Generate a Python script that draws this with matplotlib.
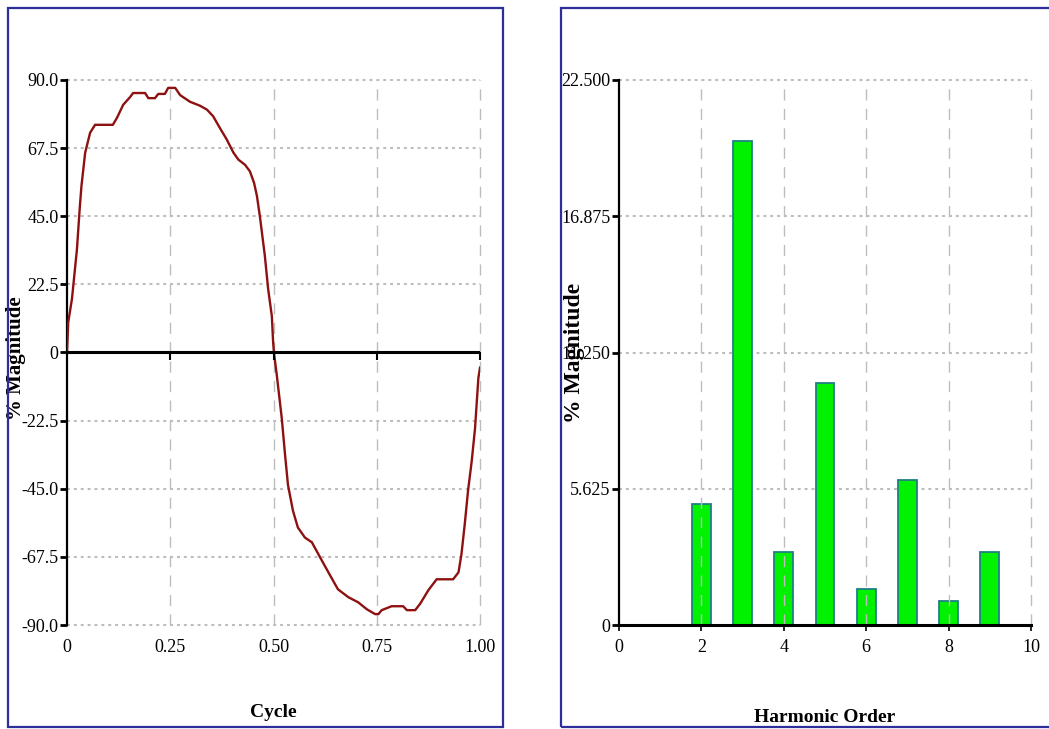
"""
Waveform and harmonic spectrum, two panels
"""
import matplotlib.pyplot as plt
from matplotlib.patches import Rectangle
from matplotlib.transforms import Bbox, TransformedBbox

# waveform over one cycle
cycle = [0, 0.003, 0.012, 0.024, 0.031, 0.035, 0.044, 0.056, 0.068, 0.111,
         0.121, 0.136, 0.153, 0.16, 0.189, 0.197, 0.213, 0.221, 0.237, 0.245,
         0.262, 0.274, 0.298, 0.322, 0.339, 0.354, 0.370, 0.387, 0.403, 0.415,
         0.431, 0.443, 0.453, 0.46, 0.467, 0.479, 0.487, 0.496, 0.499, 0.501,
         0.508, 0.52, 0.528, 0.535, 0.547, 0.559, 0.576, 0.593, 0.613, 0.637,
         0.656, 0.681, 0.705, 0.726, 0.746, 0.754, 0.762, 0.786, 0.814, 0.823,
         0.843, 0.855, 0.875, 0.895, 0.935, 0.948, 0.955, 0.963, 0.971, 0.98,
         0.988, 0.996, 1.0]
magnitude = [0, 10, 17.7, 34, 48, 55, 66, 72.6, 75.2, 75.2,
             77.5, 81.8, 84.4, 85.7, 85.7, 84, 84, 85.4, 85.4, 87.4,
             87.4, 85, 82.8, 81.5, 80.2, 78, 74.2, 70.3, 66, 63.7,
             62, 59.8, 56, 51.6, 45, 32, 21, 12, 3.6, 0,
             -7.5, -21.7, -33.8, -43.7, -52.2, -57.8, -61.1, -62.7, -67.7, -73.6,
             -78.2, -80.8, -82.5, -84.8, -86.4, -86.4, -85.1, -83.8, -83.8, -85.1,
             -85.1, -83, -78.5, -74.9, -74.9, -72.6, -66.7, -56.8, -45.7, -35.8,
             -25, -8.5, -5]
wave_xticks = [0, 0.25, 0.5, 0.75, 1.0]
wave_xlabels = ["0", "0.25", "0.50", "0.75", "1.00"]
wave_yticks = [90, 67.5, 45, 22.5, 0, -22.5, -45, -67.5, -90]
wave_ylabels = ["90.0", "67.5", "45.0", "22.5", "0", "-22.5", "-45.0", "-67.5", "-90.0"]

# harmonic spectrum
harmonic_order = [2, 3, 4, 5, 6, 7, 8, 9]
harmonic_pct = [5.0, 20.0, 3.0, 10.0, 1.5, 6.0, 1.0, 3.0]
harm_xticks = [0, 2, 4, 6, 8, 10]
harm_yticks = [0, 5.625, 11.25, 16.875, 22.5]
harm_ylabels = ["0", "5.625", "11.250", "16.875", "22.500"]

W, H = 1049, 729
plt.rcParams['font.family'] = ['Liberation Serif', 'DejaVu Serif']

fig = plt.figure(figsize=(W / 100, H / 100), dpi=100)
fig.patch.set_facecolor('white')

# blue panel frames
for x0, x1 in [(8, 503), (561, 1060)]:
    fig.patches.append(Rectangle((x0 / W, 1 - 727 / H), (x1 - x0) / W, (727 - 8) / H,
                                 transform=fig.transFigure, fill=False,
                                 edgecolor='#2d2d9c', lw=1.6))

grid_col = '#bdbdbd'
hgrid = dict(color=grid_col, lw=1.5, linestyle=(0, (1.4, 1.9)), clip_on=False)
vgrid = dict(color=grid_col, lw=1.0, linestyle=(0, (8, 6)), clip_on=False)
tick_font = 13

ax1 = fig.add_axes([67 / W, 1 - 625 / H, 413 / W, 545 / H])
ax2 = fig.add_axes([619 / W, 1 - 625 / H, 412 / W, 545 / H])

# ---- left: waveform ----
ax1.set_xlim(0, 1.0)
ax1.set_ylim(-90, 90)
for v in wave_yticks:
    ax1.axhline(v, zorder=0, **hgrid)
for v in wave_xticks[1:]:
    ax1.axvline(v, zorder=0, **vgrid)
ax1.plot(cycle, magnitude, color='#8e1111', lw=1.7, zorder=3)
ax1.axhline(0, color='black', lw=2.2, zorder=4)
ax1.plot(wave_xticks[1:], [0] * len(wave_xticks[1:]), linestyle='none', marker=3,
         ms=6, mew=1.5, color='black', zorder=4, clip_on=False)
for s in ['top', 'right', 'bottom']:
    ax1.spines[s].set_visible(False)
ax1.spines['left'].set_linewidth(1.6)
ax1.set_xticks(wave_xticks, wave_xlabels)
ax1.set_yticks(wave_yticks, wave_ylabels)
ax1.tick_params(axis='x', length=0, pad=10, labelsize=tick_font)
ax1.tick_params(axis='y', length=5, width=2, pad=1, labelsize=tick_font)
ax1.set_xlabel('Cycle', fontsize=14, fontweight='bold')
ax1.xaxis.set_label_coords(0.5, -0.145)
ax1.set_ylabel('% Magnitude', fontsize=15, fontweight='bold', va='center')
ax1.yaxis.set_label_coords(-0.124, 0.49)

# ---- right: harmonic spectrum ----
ax2.set_xlim(0, 10)
ax2.set_ylim(0, 22.5)
for v in harm_yticks[1:]:
    ax2.axhline(v, zorder=0, **hgrid)
for v in harm_xticks[1:]:
    ax2.axvline(v, zorder=3, **vgrid)
ax2.bar(harmonic_order, harmonic_pct, width=0.46, color='#00f200',
        edgecolor='#1f7f86', lw=1.3, zorder=2)
for s in ['top', 'right']:
    ax2.spines[s].set_visible(False)
ax2.spines['left'].set_linewidth(1.6)
ax2.spines['bottom'].set_linewidth(2.2)
ax2.spines['bottom'].set_zorder(5)
ax2.set_xticks(harm_xticks)
ax2.set_yticks(harm_yticks, harm_ylabels)
ax2.tick_params(axis='x', length=4, width=1.2, pad=6, labelsize=tick_font)
ax2.tick_params(axis='y', length=5, width=2, pad=1, labelsize=tick_font)
ax2.set_xlabel('Harmonic Order', fontsize=14, fontweight='bold')
ax2.xaxis.set_label_coords(0.5, -0.155)
ax2.set_ylabel('% Magnitude', fontsize=17, fontweight='bold', va='center')
ax2.yaxis.set_label_coords(-0.107, 0.5)

# tick labels on the right panel get cut by its frame
clip = TransformedBbox(Bbox([[562 / W, 0], [1, 1]]), fig.transFigure)
for lbl in ax2.get_yticklabels():
    lbl.set_clip_box(clip)
    lbl.set_clip_on(True)

fig.savefig('out.png', dpi=100)
